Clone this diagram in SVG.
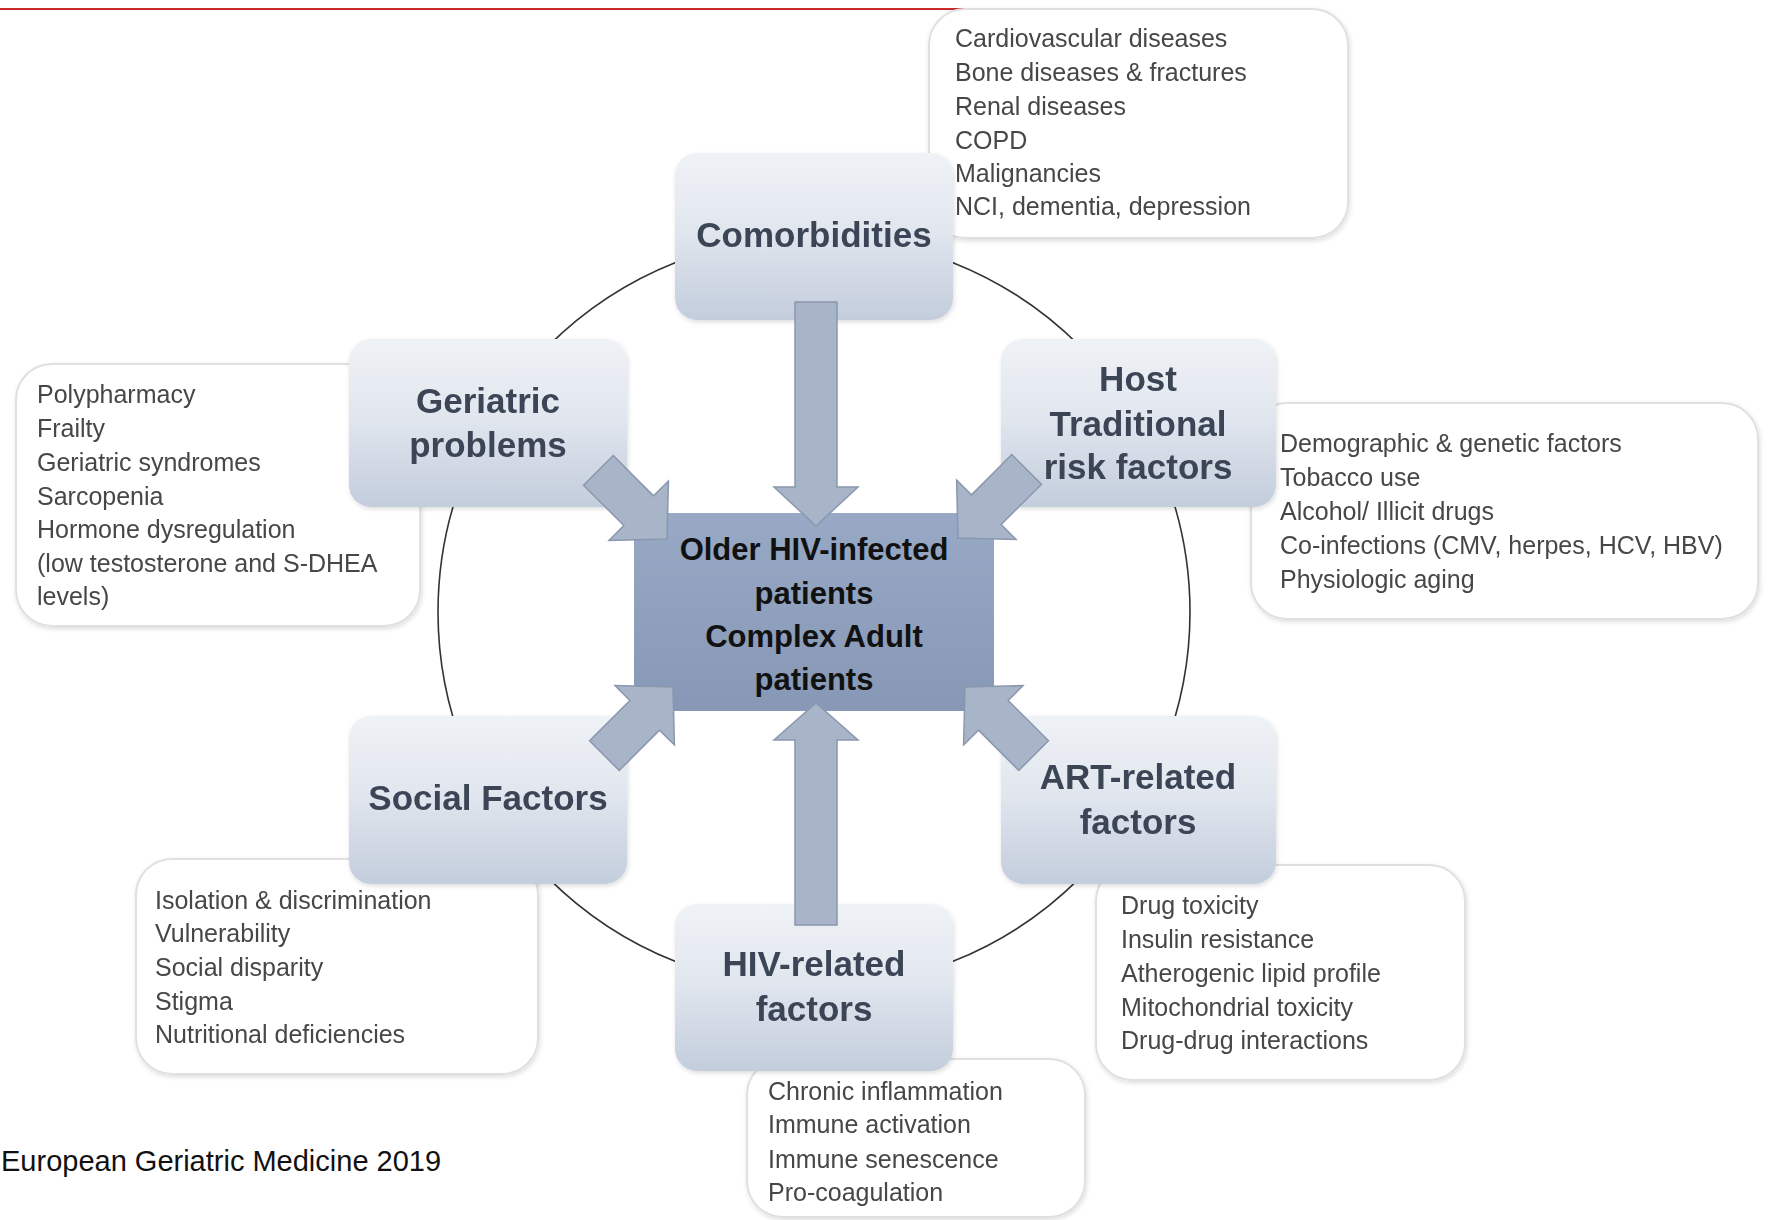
<svg xmlns="http://www.w3.org/2000/svg" width="1772" height="1220" viewBox="0 0 1772 1220">
  <defs>
    <linearGradient id="nodeFill" x1="0" y1="0" x2="0" y2="1">
      <stop offset="0" stop-color="#eff2f6"/>
      <stop offset="0.45" stop-color="#e2e7ef"/>
      <stop offset="1" stop-color="#c3cddc"/>
    </linearGradient>
    <linearGradient id="coreFill" x1="0" y1="0" x2="0" y2="1">
      <stop offset="0" stop-color="#97a9c5"/>
      <stop offset="1" stop-color="#8698b5"/>
    </linearGradient>
    <filter id="soft" x="-10%" y="-10%" width="120%" height="120%">
      <feGaussianBlur in="SourceAlpha" stdDeviation="2.5"/>
      <feOffset dx="1" dy="2"/>
      <feComponentTransfer><feFuncA type="linear" slope="0.14"/></feComponentTransfer>
      <feMerge><feMergeNode/><feMergeNode in="SourceGraphic"/></feMerge>
    </filter>
    <path id="diagArrow" d="M0,-21 L57,-21 L57,-42 L97,0 L57,42 L57,21 L0,21 Z"/>
  </defs>
  <style>
    .list-box { fill: #ffffff; stroke: #e0e0e0; stroke-width: 2; }
    .list-text { font-family: "Liberation Sans", Arial, sans-serif; font-size: 25px; fill: #464646; }
    .node-box { fill: url(#nodeFill); }
    .node-text { font-family: "Liberation Sans", Arial, sans-serif; font-size: 35px; font-weight: bold; fill: #3b4556; text-anchor: middle; }
    .core-text { font-family: "Liberation Sans", Arial, sans-serif; font-size: 31px; font-weight: bold; fill: #111111; text-anchor: middle; }
    .arrow { fill: #a8b4c8; stroke: #8a97ad; stroke-width: 1.5; stroke-linejoin: miter; }
    .ring { fill: none; stroke: #333333; stroke-width: 1.6; }
    .footer { font-family: "Liberation Sans", Arial, sans-serif; font-size: 29px; fill: #111111; }
  </style>

  <rect width="1772" height="1220" fill="#ffffff"/>

  <!-- header rule -->
  <line x1="0" y1="9" x2="1045" y2="9" stroke="#cc2a2a" stroke-width="1.8"/>

  <!-- ring linking the six factor groups -->
  <g id="connectors-ring">
    <circle class="ring" cx="814" cy="612" r="376"/>
  </g>

  <!-- detail lists -->
  <g id="list-comorbidities" filter="url(#soft)">
    <rect class="list-box" x="929" y="9" width="419" height="229" rx="36"/>
    <text class="list-text" x="955" y="47">Cardiovascular diseases</text>
    <text class="list-text" x="955" y="81">Bone diseases &amp; fractures</text>
    <text class="list-text" x="955" y="115">Renal diseases</text>
    <text class="list-text" x="955" y="149">COPD</text>
    <text class="list-text" x="955" y="182">Malignancies</text>
    <text class="list-text" x="955" y="215">NCI, dementia, depression</text>
  </g>
  <g id="list-geriatric" filter="url(#soft)">
    <rect class="list-box" x="16" y="364" width="404" height="262" rx="36"/>
    <text class="list-text" x="37" y="403">Polypharmacy</text>
    <text class="list-text" x="37" y="437">Frailty</text>
    <text class="list-text" x="37" y="471">Geriatric syndromes</text>
    <text class="list-text" x="37" y="505">Sarcopenia</text>
    <text class="list-text" x="37" y="538">Hormone dysregulation</text>
    <text class="list-text" x="37" y="572">(low testosterone and S-DHEA</text>
    <text class="list-text" x="37" y="605">levels)</text>
  </g>
  <g id="list-host" filter="url(#soft)">
    <rect class="list-box" x="1251" y="403" width="507" height="216" rx="36"/>
    <text class="list-text" x="1280" y="452">Demographic &amp; genetic factors</text>
    <text class="list-text" x="1280" y="486">Tobacco use</text>
    <text class="list-text" x="1280" y="520">Alcohol/ Illicit drugs</text>
    <text class="list-text" x="1280" y="554">Co-infections (CMV, herpes, HCV, HBV)</text>
    <text class="list-text" x="1280" y="588">Physiologic aging</text>
  </g>
  <g id="list-social" filter="url(#soft)">
    <rect class="list-box" x="136" y="859" width="402" height="215" rx="36"/>
    <text class="list-text" x="155" y="909">Isolation &amp; discrimination</text>
    <text class="list-text" x="155" y="942">Vulnerability</text>
    <text class="list-text" x="155" y="976">Social disparity</text>
    <text class="list-text" x="155" y="1010">Stigma</text>
    <text class="list-text" x="155" y="1043">Nutritional deficiencies</text>
  </g>
  <g id="list-art" filter="url(#soft)">
    <rect class="list-box" x="1096" y="865" width="369" height="215" rx="36"/>
    <text class="list-text" x="1121" y="914">Drug toxicity</text>
    <text class="list-text" x="1121" y="948">Insulin resistance</text>
    <text class="list-text" x="1121" y="982">Atherogenic lipid profile</text>
    <text class="list-text" x="1121" y="1016">Mitochondrial toxicity</text>
    <text class="list-text" x="1121" y="1049">Drug-drug interactions</text>
  </g>
  <g id="list-hiv" filter="url(#soft)">
    <rect class="list-box" x="747" y="1059" width="338" height="158" rx="36"/>
    <text class="list-text" x="768" y="1100">Chronic inflammation</text>
    <text class="list-text" x="768" y="1133">Immune activation</text>
    <text class="list-text" x="768" y="1168">Immune senescence</text>
    <text class="list-text" x="768" y="1201">Pro-coagulation</text>
  </g>

  <!-- factor nodes -->
  <g id="node-comorbidities" filter="url(#soft)">
    <rect class="node-box" x="675" y="153" width="278" height="167" rx="22"/>
    <text class="node-text" x="814" y="247">Comorbidities</text>
  </g>
  <g id="node-geriatric" filter="url(#soft)">
    <rect class="node-box" x="349" y="339" width="278" height="168" rx="22"/>
    <text class="node-text" x="488" y="413">Geriatric</text>
    <text class="node-text" x="488" y="457">problems</text>
  </g>
  <g id="node-host" filter="url(#soft)">
    <rect class="node-box" x="1001" y="339" width="275" height="168" rx="22"/>
    <text class="node-text" x="1138" y="391">Host</text>
    <text class="node-text" x="1138" y="436">Traditional</text>
    <text class="node-text" x="1138" y="479">risk factors</text>
  </g>
  <g id="node-social" filter="url(#soft)">
    <rect class="node-box" x="349" y="716" width="278" height="168" rx="22"/>
    <text class="node-text" x="488" y="810">Social Factors</text>
  </g>
  <g id="node-art" filter="url(#soft)">
    <rect class="node-box" x="1001" y="716" width="275" height="168" rx="22"/>
    <text class="node-text" x="1138" y="789">ART-related</text>
    <text class="node-text" x="1138" y="834">factors</text>
  </g>
  <g id="node-hiv" filter="url(#soft)">
    <rect class="node-box" x="675" y="904" width="278" height="167" rx="22"/>
    <text class="node-text" x="814" y="976">HIV-related</text>
    <text class="node-text" x="814" y="1021">factors</text>
  </g>

  <!-- central patient group -->
  <g id="node-core">
    <rect x="634" y="513" width="360" height="198" fill="url(#coreFill)"/>
    <text class="core-text" x="814" y="560">Older HIV-infected</text>
    <text class="core-text" x="814" y="604">patients</text>
    <text class="core-text" x="814" y="647">Complex Adult</text>
    <text class="core-text" x="814" y="690">patients</text>
  </g>

  <!-- block arrows pointing into the centre -->
  <g id="connectors">
    <path class="arrow" d="M795,302 L837,302 L837,487 L858,487 L816,526 L774,487 L795,487 Z"/>
    <path class="arrow" d="M795,925 L837,925 L837,740 L858,740 L816,703 L774,740 L795,740 Z"/>
    <use class="arrow" href="#diagArrow" transform="translate(598.4,470.4) rotate(45)"/>
    <use class="arrow" href="#diagArrow" transform="translate(1026.6,469.4) rotate(135)"/>
    <use class="arrow" href="#diagArrow" transform="translate(604.4,755.6) rotate(-45)"/>
    <use class="arrow" href="#diagArrow" transform="translate(1033.6,755.6) rotate(-135)"/>
  </g>

  <text class="footer" x="1" y="1171">European Geriatric Medicine 2019</text>
</svg>
